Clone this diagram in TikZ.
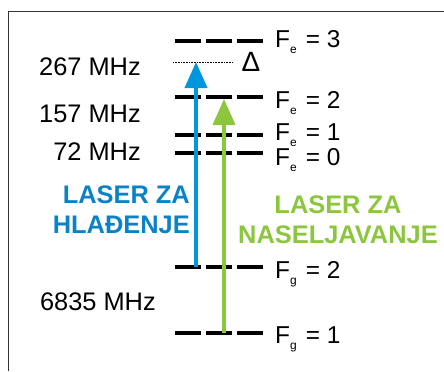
\documentclass[tikz,border=0pt]{standalone}
\usepackage{fontspec}
\setmainfont{Liberation Sans}
\usepackage{tikz}
\usepackage{xcolor}
\usetikzlibrary{arrows.meta, positioning}
\definecolor{coolblue}{HTML}{0096DE}
\definecolor{cooltext}{HTML}{0A82C8}
\definecolor{pumpgreen}{HTML}{8CC63E}
\definecolor{framegray}{HTML}{333333}

\tikzset{
  level/.style={line width=3.5bp, dash pattern=on 26bp off 5bp},
  lvllabel/.style={anchor=base west, inner sep=0pt, font=\fontsize{24.5}{24.5}\selectfont},
  freqlabel/.style={anchor=base east, inner sep=0pt, font=\fontsize{25.5}{25.5}\selectfont},
  laser/.style={line width=4bp, -{Triangle[length=26bp, width=22bp]}},
}
\newcommand{\lvl}[2]{F\raisebox{-6bp}{\fontsize{12}{12}\selectfont #1}\hspace{9bp}= #2}

\begin{document}
\begin{tikzpicture}[x=1bp, y=-1bp]
\useasboundingbox (0,0) rectangle (444,371);
\draw[framegray, line width=1.5bp] (8.5,371) -- (8.5,11.5) -- (444,11.5);

% levels
\coordinate (e3) at (175,41);
\coordinate (e2) at (175,97);
\coordinate (e1) at (175,135);
\coordinate (e0) at (175,153);
\coordinate (g2) at (175,267);
\coordinate (g1) at (175,333);
\foreach \c in {e3,e2,e1,e0,g2,g1}
  \draw[level] (\c) -- ++(88,0);

\node[lvllabel] (le3) at (275,47) {\lvl{e}{3}};
\node[lvllabel] (le2) at (275,108) {\lvl{e}{2}};
\node[lvllabel] (le1) at (275,140) {\lvl{e}{1}};
\node[lvllabel] (le0) at (275,165) {\lvl{e}{0}};
\node[lvllabel] (lg2) at (275,278) {\lvl{g}{2}};
\node[lvllabel] (lg1) at (275,343) {\lvl{g}{1}};

% detuning
\coordinate (dl) at (173,62);
\coordinate (dr) at (233,62);
\draw[densely dotted, line width=0.6bp] (dl) -- (dr);
\node[inner sep=0pt, font=\fontsize{28}{28}\selectfont] (delta) at (251,62) {Δ};

\node[freqlabel] (f267) at (141,75) {267 MHz};
\node[freqlabel] (f157) at (141,122) {157 MHz};
\node[freqlabel] (f72) at (141,160) {72 MHz};
\node[freqlabel] (f6835) at (156,310) {6835 MHz};

% lasers
\coordinate (bs) at (196,267);
\coordinate (be) at (196,62);
\coordinate (gs) at (224,333);
\coordinate (ge) at (224,99);
\draw[laser, coolblue] (bs) -- (be);
\draw[laser, pumpgreen] (gs) -- (ge);

\node[anchor=base east, inner sep=0pt, align=right, text=cooltext,
      font=\fontsize{25.5}{30}\selectfont\bfseries] (cool) at (190,233) {LASER ZA\\HLAĐENJE};
\node[anchor=base, inner sep=0pt, align=center, text=pumpgreen,
      font=\fontsize{25.5}{30}\selectfont\bfseries] (pump) at (338,243) {LASER ZA\\NASELJAVANJE};
\end{tikzpicture}
\end{document}
